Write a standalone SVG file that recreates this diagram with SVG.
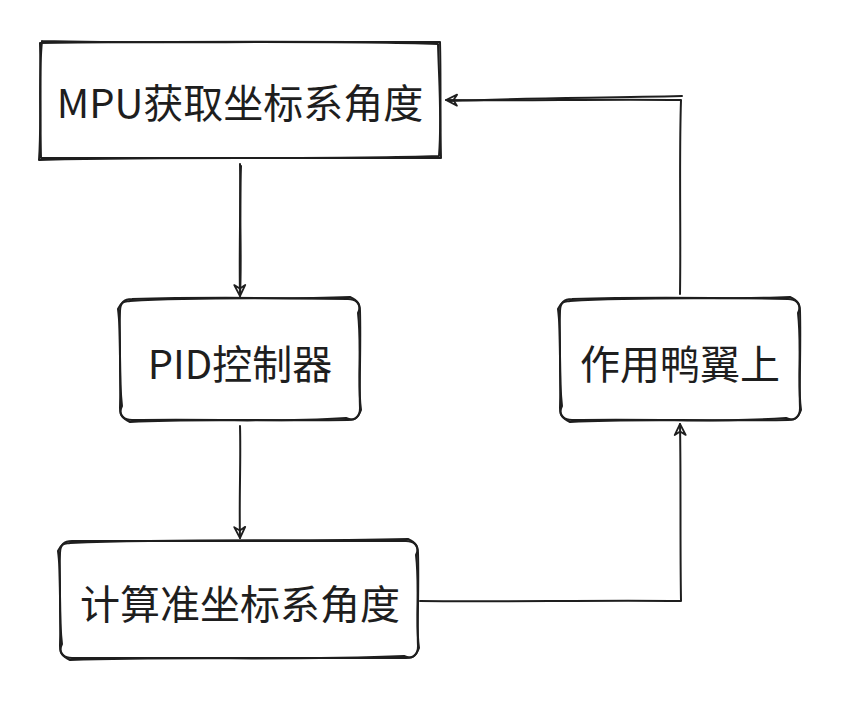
<svg xmlns="http://www.w3.org/2000/svg" width="842" height="702" viewBox="0 0 842 702">
<style>
.s{fill:none;stroke:#1e1e1e;stroke-width:2;stroke-linecap:round;stroke-linejoin:round}
.t{font-family:"Noto Sans CJK SC","Noto Sans",sans-serif;font-size:40px;fill:#1e1e1e;text-anchor:middle;dominant-baseline:central}
</style>
<defs>
<marker id="ah" markerWidth="18" markerHeight="18" refX="14" refY="9" orient="auto" markerUnits="userSpaceOnUse">
<path d="M3,3.5 L14,9 L3,14.5 L6.5,9 Z" fill="none" stroke="#1e1e1e" stroke-width="1.8" stroke-linejoin="round"/>
</marker>
</defs>
<rect width="842" height="702" fill="#ffffff"/>
<g id="n1">
<path class="s" d="M40,43 C150,41 330,42 440,42 C441,80 440,120 441,158 C330,157 150,159 41,158 C40,120 41,80 40,43 Z"/>
<path class="s" d="M42,41 C160,44 320,40 438,44 C439,82 442,118 439,156 C320,160 160,156 39,160 C42,118 38,82 42,41"/>
<text class="t" x="240" y="101">MPU获取坐标系角度</text>
</g>
<g id="n2">
<path class="s" d="M132,299 C200,297 290,298 348,299 C356,299 360,303 360,311 C361,350 359,385 360,408 C360,416 356,420 348,420 C280,421 200,419 132,420 C124,420 120,416 120,408 C121,370 119,340 120,311 C120,303 124,299 132,299 Z"/>
<path class="s" d="M130,301 C210,296 280,300 350,297 C357,300 362,305 358,313 C362,350 357,380 361,410 C358,418 354,422 346,418 C270,423 210,418 130,422 C122,418 118,414 122,406 C118,370 122,340 118,309 C122,300 126,302 130,301"/>
<text class="t" x="240" y="362">PID控制器</text>
</g>
<g id="n3">
<path class="s" d="M572,299 C640,297 730,298 788,299 C796,299 800,303 800,311 C801,350 799,385 800,408 C800,416 796,420 788,420 C720,421 640,419 572,420 C564,420 560,416 560,408 C561,370 559,340 560,311 C560,303 564,299 572,299 Z"/>
<path class="s" d="M570,301 C650,296 720,300 790,297 C797,300 802,305 798,313 C802,350 797,380 801,410 C798,418 794,422 786,418 C710,423 650,418 570,422 C562,418 558,414 562,406 C558,370 562,340 558,309 C562,300 566,302 570,301"/>
<text class="t" x="680" y="362">作用鸭翼上</text>
</g>
<g id="n4">
<path class="s" d="M72,541 C180,540 300,542 406,541 C414,541 418,545 418,553 C419,590 417,625 418,646 C418,654 414,658 406,658 C300,659 180,657 72,658 C64,658 60,654 60,646 C61,610 59,580 60,553 C60,545 64,541 72,541 Z"/>
<path class="s" d="M70,543 C190,538 290,542 408,539 C415,542 420,547 416,555 C420,590 415,620 419,648 C416,656 412,660 404,656 C290,661 190,656 70,660 C62,656 58,652 62,644 C58,610 62,580 58,551 C62,542 66,544 70,543"/>
<text class="t" x="240" y="602">计算准坐标系角度</text>
</g>
<g id="connectors">
<path class="s" d="M240,164 C241,200 239,250 240,296" marker-end="url(#ah)"/>
<path class="s" d="M241,166 C239,210 242,260 240,294"/>
<path class="s" d="M240,426 C241,460 239,500 240,538" marker-end="url(#ah)"/>
<path class="s" d="M420,601 C500,602 600,600 681,601 C680,540 681,480 680,424" marker-end="url(#ah)"/>
<path class="s" d="M680,294 C681,230 679,160 681,100 C600,99 520,101 446,100" marker-end="url(#ah)"/>
<path class="s" d="M682,96 C600,98 520,98 450,101"/>
</g>
</svg>
